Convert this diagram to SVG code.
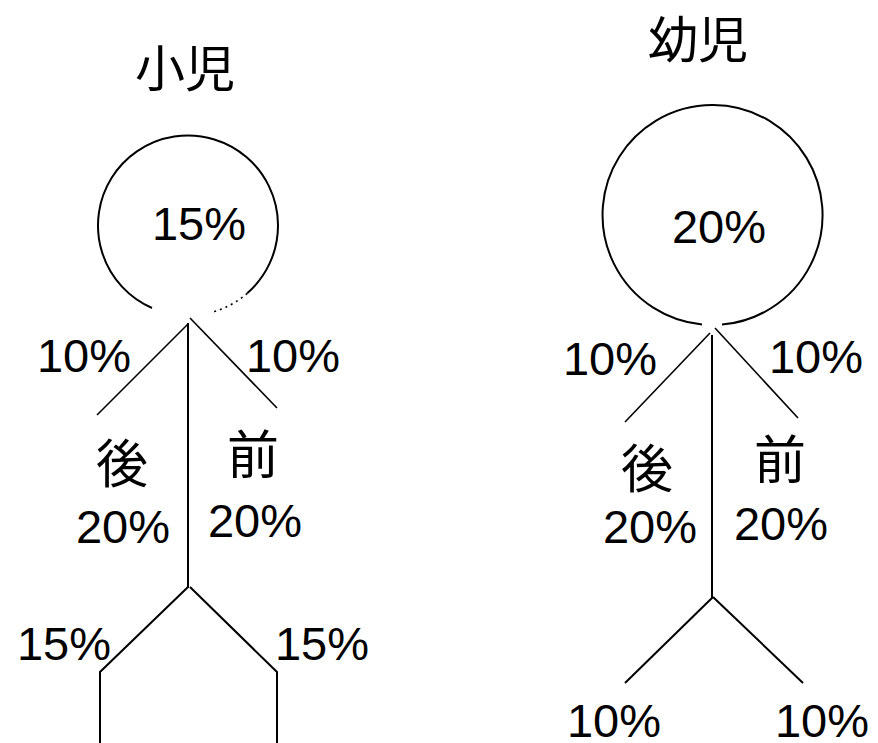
<svg xmlns="http://www.w3.org/2000/svg" width="878" height="743" viewBox="0 0 878 743">
  <style>
    .bg { fill: #ffffff; }
    .stroke { fill: none; stroke: #000; stroke-width: 2; stroke-linecap: butt; }
    .thin { fill: none; stroke: #000; stroke-width: 1.6; }
    .dot { fill: none; stroke: #000; stroke-width: 1.6; stroke-dasharray: 2 4; }
    .num { font-family: "Liberation Sans", "DejaVu Sans", sans-serif; font-size: 47px; fill: #000; text-anchor: middle; }
    .cjk { font-family: "Noto Sans CJK JP", "Noto Sans CJK SC", sans-serif; font-size: 52px; fill: #000; text-anchor: middle; }
    .title { font-size: 50px; }
  </style>
  <rect class="bg" x="0" y="0" width="878" height="743"/>

  <!-- Left figure: 小児 -->
  <g id="child">
    <text class="cjk title" x="185" y="87">小児</text>
    <g id="child-head">
      <!-- head outline, open at the neck -->
      <path class="stroke" d="M 152 308 A 90 90 0 1 1 247.2 293.3"/>
      <path class="dot" d="M 247.2 293.3 A 90 90 0 0 1 213 312"/>
      <text class="num" x="199" y="240">15%</text>
    </g>
    <text class="num" x="84" y="372">10%</text>
    <text class="num" x="293" y="372">10%</text>
    <text class="cjk" x="122" y="483">後</text>
    <text class="num" x="123" y="543">20%</text>
    <text class="cjk" x="253" y="474">前</text>
    <text class="num" x="255" y="537">20%</text>
    <text class="num" x="64" y="660">15%</text>
    <text class="num" x="322" y="660">15%</text>
  </g>

  <!-- Right figure: 幼児 -->
  <g id="infant">
    <text class="cjk title" x="698" y="58">幼児</text>
    <g id="infant-head">
      <path class="stroke" d="M 702 324.5 A 110 110 0 1 1 722 324.6"/>
      <text class="num" x="719" y="243">20%</text>
    </g>
    <text class="num" x="610" y="375">10%</text>
    <text class="num" x="816" y="373">10%</text>
    <text class="cjk" x="647" y="488">後</text>
    <text class="num" x="650" y="543">20%</text>
    <text class="cjk" x="780" y="479">前</text>
    <text class="num" x="781" y="540">20%</text>
    <text class="num" x="614" y="737">10%</text>
    <text class="num" x="822" y="737">10%</text>
  </g>

  <!-- Body lines -->
  <g id="connectors">
    <!-- child -->
    <line class="stroke" x1="188" y1="323" x2="188" y2="588"/>
    <line class="thin" x1="188" y1="324" x2="97" y2="415"/>
    <line class="thin" x1="190" y1="318" x2="277" y2="408"/>
    <polyline class="stroke" points="188,587 100,672 100,743"/>
    <polyline class="stroke" points="190,587 277,672 277,743"/>
    <!-- infant -->
    <line class="stroke" x1="712" y1="335" x2="712" y2="598"/>
    <line class="thin" x1="710" y1="333" x2="625" y2="422"/>
    <line class="thin" x1="715" y1="328" x2="798" y2="418"/>
    <line class="stroke" x1="713" y1="597" x2="625" y2="683"/>
    <line class="stroke" x1="713" y1="597" x2="803" y2="683"/>
  </g>
</svg>
